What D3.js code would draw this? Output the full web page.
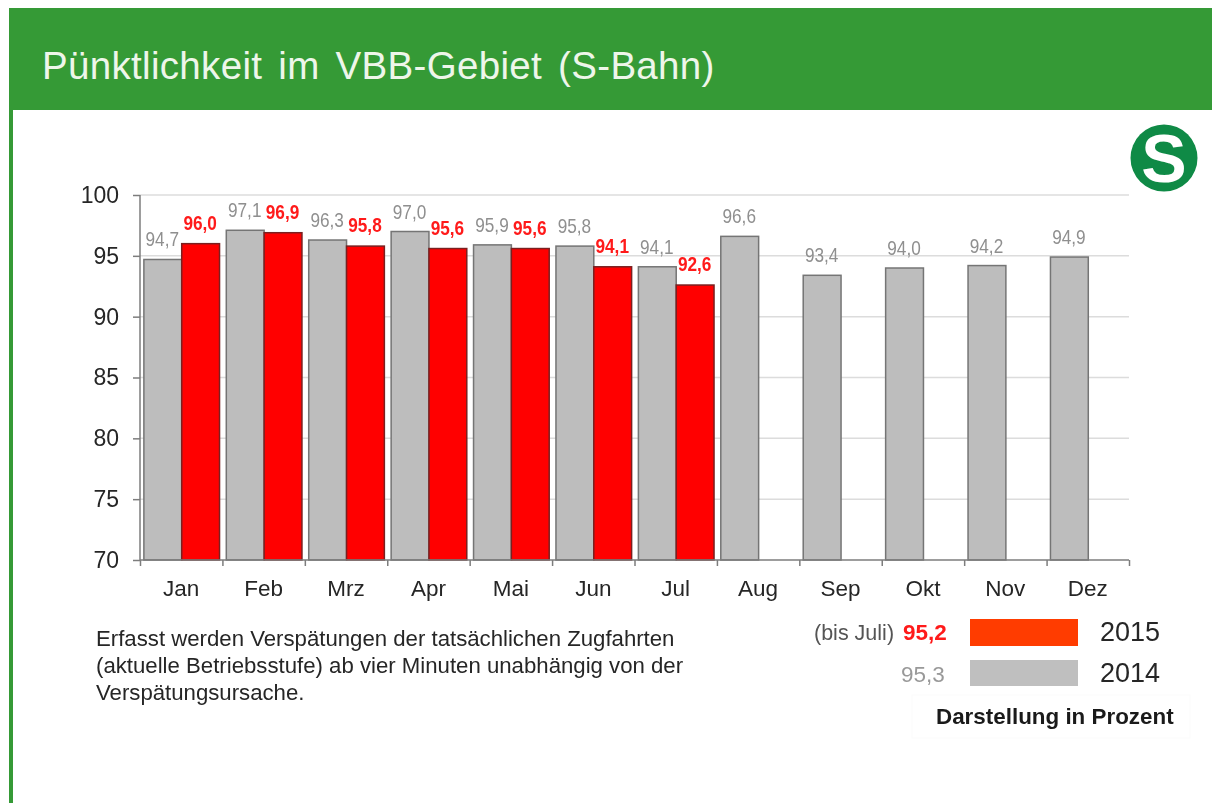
<!DOCTYPE html>
<html>
<head>
<meta charset="utf-8">
<script src="https://cdn.jsdelivr.net/npm/d3@7"></script>
<style>
  html, body { margin: 0; padding: 0; background: #fff; overflow: hidden; }
  svg { display: block; font-family: "Liberation Sans", Arial, sans-serif; filter: blur(0.45px); }
</style>
</head>
<body>
<script>
const width = 1212;
const height = 803;

const months = ["Jan", "Feb", "Mrz", "Apr", "Mai", "Jun", "Jul", "Aug", "Sep", "Okt", "Nov", "Dez"];
const values2014 = [94.7, 97.1, 96.3, 97.0, 95.9, 95.8, 94.1, 96.6, 93.4, 94.0, 94.2, 94.9];
const values2015 = [96.0, 96.9, 95.8, 95.6, 95.6, 94.1, 92.6];
const yTicks = [70, 75, 80, 85, 90, 95, 100];
const noteLines = [
  "Erfasst werden Verspätungen der tatsächlichen Zugfahrten",
  "(aktuelle Betriebsstufe) ab vier Minuten unabhängig von der",
  "Verspätungsursache."
];
const green = "#359a36";
const comma = d3.format(".1f");
const fmt = v => comma(v).replace(".", ",");

const svg = d3.select("body").append("svg")
    .attr("width", width)
    .attr("height", height)
    .attr("viewBox", [0, 0, width, height]);

// slide frame
svg.append("rect").attr("x", 9).attr("y", 8).attr("width", width - 9).attr("height", 102).attr("fill", green);
svg.append("rect").attr("x", 9).attr("y", 8).attr("width", 4).attr("height", height - 8).attr("fill", green);
svg.append("text").attr("x", 42).attr("y", 79)
    .attr("fill", "#eef6ea").attr("font-size", 38.5)
    .attr("word-spacing", 5).attr("letter-spacing", 0.32)
    .text("Pünktlichkeit im VBB-Gebiet (S-Bahn)");

// S-Bahn logo
const logo = svg.append("g").attr("transform", "translate(1164,158)");
logo.append("circle").attr("r", 33.5).attr("fill", "#0f8a46");
logo.append("text").attr("text-anchor", "middle").attr("y", 24)
    .attr("font-size", 68).attr("font-weight", "bold").attr("fill", "#fff")
    .text("S");

// scales
const x = d3.scaleBand().domain(months).range([140, 1129]);
const xEdges = d3.scaleLinear().domain([0, 12]).range([140, 1129]);
const y = d3.scaleLinear().domain([70, 100]).range([560, 195]);
const barW = x.bandwidth() * 0.459;
const groupLeft = m => x(m) + (x.bandwidth() - 2 * barW) / 2;

// gridlines
svg.append("g").selectAll("line").data(yTicks.slice(1)).join("line")
    .attr("x1", 140).attr("x2", 1129)
    .attr("y1", d => y(d)).attr("y2", d => y(d))
    .attr("stroke", "#dcdcdc").attr("stroke-width", 1.5);

// bars
svg.append("g").selectAll("rect").data(values2014).join("rect")
    .attr("x", (d, i) => groupLeft(months[i]) + 0.5)
    .attr("y", d => y(d))
    .attr("width", barW)
    .attr("height", d => y(70) - y(d))
    .attr("fill", "#bdbdbd").attr("stroke", "#757575").attr("stroke-width", 1.5);
svg.append("g").selectAll("rect").data(values2015).join("rect")
    .attr("x", (d, i) => groupLeft(months[i]) + barW + 0.5)
    .attr("y", d => y(d))
    .attr("width", barW)
    .attr("height", d => y(70) - y(d))
    .attr("fill", "#ff0000").attr("stroke", "#7a2020").attr("stroke-width", 1.5);

// axes
const yAxis = svg.append("g").attr("transform", "translate(140,0)")
    .call(d3.axisLeft(y).tickValues(yTicks).tickSize(7).tickPadding(14).tickFormat(d3.format("d")));
const xAxis = svg.append("g").attr("transform", "translate(0,560)")
    .call(d3.axisBottom(xEdges).ticks(12).tickSize(6).tickFormat(""));
[yAxis, xAxis].forEach(a => {
  a.selectAll("path, line").attr("stroke", "#7d7d7d").attr("stroke-width", 1.5);
  a.select(".domain").attr("d", a === yAxis ? "M0,195V560" : "M140,0H1129");
});
yAxis.selectAll("text").attr("font-size", 23).attr("font-family", "Liberation Sans").attr("fill", "#262626");
svg.append("g").selectAll("text").data(months).join("text")
    .attr("x", d => x(d) + x.bandwidth() / 2)
    .attr("y", 596)
    .attr("text-anchor", "middle").attr("font-size", 22.5).attr("fill", "#262626")
    .text(d => d);

// value labels, squeezed like the original
const label = (g, data, off, gap, fill, weight) => g.selectAll("text").data(data).join("text")
    .attr("transform", (d, i) => `translate(${groupLeft(months[i]) + off},${y(d) - gap}) scale(0.82,1)`)
    .attr("text-anchor", "middle").attr("font-size", 21)
    .attr("font-weight", weight).attr("fill", fill)
    .text(fmt);
label(svg.append("g"), values2014, barW / 2, 13, "#8f8f8f", "normal");
label(svg.append("g"), values2015, barW * 1.5, 14, "#ff1a1a", "bold");

// footnote
svg.append("g").selectAll("text").data(noteLines).join("text")
    .attr("x", 96).attr("y", (d, i) => 646 + i * 27)
    .attr("font-size", 22.2).attr("fill", "#262626")
    .text(d => d);

// legend
svg.append("rect").attr("x", 970).attr("y", 619).attr("width", 108).attr("height", 27).attr("fill", "#ff3c00");
svg.append("rect").attr("x", 970).attr("y", 660).attr("width", 108).attr("height", 26).attr("fill", "#bfbfbf");
svg.append("text").attr("x", 1100).attr("y", 641).attr("font-size", 27).attr("fill", "#262626").text("2015");
svg.append("text").attr("x", 1100).attr("y", 682).attr("font-size", 27).attr("fill", "#262626").text("2014");
svg.append("text").attr("x", 814).attr("y", 640).attr("font-size", 21.5).attr("fill", "#555").text("(bis Juli)");
svg.append("text").attr("x", 903).attr("y", 640).attr("font-size", 22.5).attr("font-weight", "bold").attr("fill", "#ff1a1a").text("95,2");
svg.append("text").attr("x", 901).attr("y", 682).attr("font-size", 22.5).attr("fill", "#999").text("95,3");
svg.append("rect").attr("x", 912).attr("y", 695).attr("width", 278).attr("height", 43).attr("fill", "none").attr("stroke", "#fbfbfb");
svg.append("text").attr("x", 936).attr("y", 724).attr("font-size", 22.4).attr("font-weight", "bold").attr("fill", "#1a1a1a").text("Darstellung in Prozent");
</script>
</body>
</html>
